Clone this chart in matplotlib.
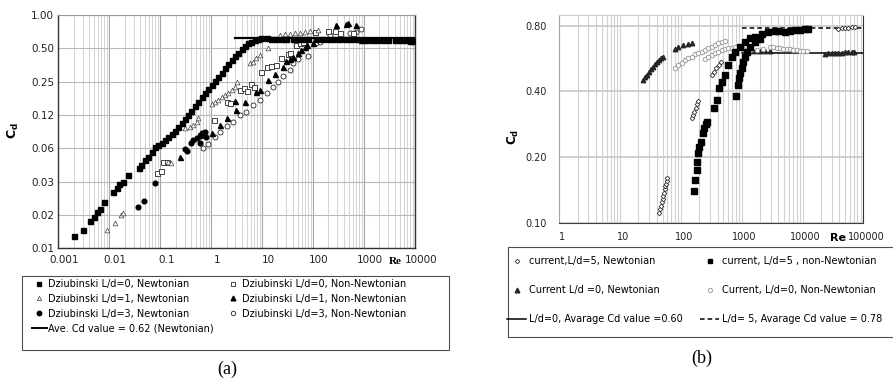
import matplotlib.pyplot as plt
import matplotlib.transforms as mtransforms
import numpy as np
from matplotlib.lines import Line2D
from matplotlib.patches import Rectangle
from matplotlib.ticker import LogLocator, NullLocator, NullFormatter

# ---------------- (a) Dziubinski data ----------------
re_a = [0.0020, 0.0030, 0.0042, 0.0050, 0.0058, 0.0066, 0.0079, 0.012, 0.0139, 0.0157, 0.0182, 0.0236,
        0.0387, 0.0411, 0.050, 0.058, 0.068, 0.079, 0.091, 0.106, 0.124, 0.144, 0.167, 0.194, 0.225,
        0.262, 0.305, 0.354, 0.411, 0.479, 0.556, 0.646, 0.752, 0.873, 1.02, 1.18, 1.37, 1.60, 1.85,
        2.15, 2.51, 2.91, 3.38, 3.94, 4.57, 5.31, 6.18, 7.18, 8.36, 9.71, 12.2, 19.1, 40.5, 116, 247,
        524, 1110, 2360, 5000, 9140, 15, 25, 30, 50, 62, 80, 150, 200, 320, 420, 700, 880, 1450, 1800,
        3000, 4000, 6500, 7800]
cd_a = [0.0100, 0.0114, 0.0139, 0.0151, 0.0166, 0.0178, 0.0203, 0.0254, 0.0276, 0.0298, 0.0313, 0.0359,
        0.0412, 0.0442, 0.0490, 0.0526, 0.0583, 0.0638, 0.0670, 0.0703, 0.0743, 0.0786, 0.0842, 0.0903,
        0.0981, 0.105, 0.114, 0.125, 0.137, 0.151, 0.165, 0.181, 0.196, 0.213, 0.232, 0.253, 0.274,
        0.297, 0.330, 0.361, 0.392, 0.426, 0.457, 0.493, 0.525, 0.555, 0.574, 0.595, 0.607, 0.620,
        0.614, 0.603, 0.603, 0.607, 0.607, 0.603, 0.599, 0.595, 0.591, 0.587, 0.610, 0.605, 0.606,
        0.604, 0.606, 0.605, 0.606, 0.604, 0.605, 0.603, 0.601, 0.600, 0.598, 0.597, 0.594, 0.593,
        0.589, 0.588]

re_c = [0.0089, 0.0129, 0.0167, 0.0188, 0.144, 0.162, 0.305, 0.382, 0.444, 0.531, 0.556, 1.02, 1.18,
        1.37, 1.60, 1.85, 2.15, 2.51, 2.91, 3.24, 5.73, 6.66, 7.74, 9.0, 13.1, 22.2, 27.8, 34.8, 43.7,
        54.8, 68.7, 86.1, 125]
cd_c = [0.0114, 0.0133, 0.0156, 0.0164, 0.0474, 0.0464, 0.0947, 0.0981, 0.102, 0.109, 0.117, 0.157,
        0.165, 0.171, 0.181, 0.190, 0.199, 0.210, 0.222, 0.250, 0.366, 0.379, 0.406, 0.435, 0.500,
        0.660, 0.674, 0.670, 0.683, 0.692, 0.707, 0.722, 0.732]

re_d = [0.036, 0.0485, 0.0786, 0.305, 0.328, 0.411, 0.444, 0.516, 0.600, 0.646, 0.752, 0.809, 0.600]
cd_d = [0.0186, 0.0209, 0.0302, 0.0612, 0.0595, 0.0694, 0.0743, 0.0770, 0.0808, 0.0854, 0.0884, 0.0788, 0.0703]

re_e = [0.0847, 0.103, 0.114, 0.133, 0.600, 1.13, 2.0, 2.32, 3.65, 4.37, 5.08, 6.18, 6.87, 9.71, 12.2,
        15.2, 19.1, 23.9, 32.4, 36.0, 47.1, 54.8, 63.7, 108, 197, 266, 333, 608]
cd_e = [0.0372, 0.0390, 0.0467, 0.0474, 0.0825, 0.113, 0.165, 0.159, 0.210, 0.218, 0.206, 0.238, 0.225,
        0.308, 0.342, 0.349, 0.354, 0.406, 0.441, 0.457, 0.536, 0.563, 0.574, 0.698, 0.712, 0.712,
        0.683, 0.683]

re_f = [0.243, 1.02, 1.48, 2.06, 2.91, 3.14, 4.57, 7.74, 9.0, 13.1, 17.7, 25.8, 30.0, 34.8, 40.5, 50.8,
        59.0, 68.7, 76.2, 100, 287, 451, 486, 708]
cd_f = [0.0519, 0.0866, 0.101, 0.117, 0.168, 0.139, 0.165, 0.203, 0.210, 0.259, 0.293, 0.342, 0.387,
        0.398, 0.420, 0.457, 0.483, 0.510, 0.532, 0.555, 0.812, 0.830, 0.852, 0.812]

re_g = [0.697, 0.873, 1.18, 1.48, 2.0, 2.70, 3.65, 4.93, 6.66, 9.0, 12.2, 16.4, 20.6, 25.8, 34.8, 40.5,
        50.8, 79.8, 116, 135, 212, 524, 708, 887]
cd_g = [0.0625, 0.0684, 0.0788, 0.0884, 0.0994, 0.109, 0.125, 0.134, 0.154, 0.171, 0.196, 0.222, 0.250,
        0.281, 0.318, 0.366, 0.398, 0.426, 0.555, 0.574, 0.660, 0.683, 0.707, 0.742]

ave_a_re = [2.9, 10000]
ave_a_cd = 0.62

yt_a = [2.0**k for k in range(-7, 1)]
yl_a = ['0.01', '0.02', '0.03', '0.06', '0.12', '0.25', '0.50', '1.00']
xt_a = [0.001, 0.01, 0.1, 1, 10, 100, 1000, 10000]
xl_a = ['0.001', '0.01', '0.1', '1', '10', '100', '1000', '10000']

# ---------------- (b) current data ----------------
re_d5n = [44.2, 45.8, 47.6, 48.8, 50.1, 51.4, 52.6, 54.0, 55.4, 56.8, 58.2, 59.7,
          150, 158, 166, 175, 184, 193,
          320, 350, 382, 418, 456,
          38800, 44000, 49900, 56700, 64300, 72900]
cd_d5n = [0.111, 0.115, 0.119, 0.124, 0.128, 0.133, 0.137, 0.142, 0.147, 0.151, 0.156, 0.160,
          0.301, 0.312, 0.323, 0.334, 0.350, 0.363,
          0.475, 0.492, 0.510, 0.528, 0.543,
          0.775, 0.778, 0.780, 0.783, 0.786, 0.789]

re_d0n = [23.5, 25.3, 27.3, 29.5, 31.8, 34.3, 37.0, 39.9, 43.0, 46.4, 50.1,
          79.9, 90.6, 109, 132, 150,
          1368, 1652, 1997, 2414, 2917,
          23400, 26600, 30100, 34200, 38800, 44000, 49900, 56700, 64300, 70200]
cd_d0n = [0.451, 0.464, 0.475, 0.492, 0.506, 0.519, 0.532, 0.543, 0.557, 0.567, 0.577,
          0.623, 0.641, 0.652, 0.659, 0.664,
          0.612, 0.615, 0.615, 0.612, 0.612,
          0.595, 0.598, 0.598, 0.600, 0.602, 0.602, 0.604, 0.606, 0.608, 0.608]

re_d0nn = [79.9, 90.6, 103, 117, 132, 150, 170, 193, 219, 249, 283, 320, 365, 412, 468, 531,
           249, 283, 320, 365, 412, 468, 531, 602, 683, 775,
           1062, 1368, 1761, 2265, 2917, 3311, 3757, 4256, 4831, 5483, 6223, 7063, 8017, 9085, 10300, 11700]
cd_d0nn = [0.510, 0.528, 0.539, 0.557, 0.567, 0.577, 0.593, 0.598, 0.608, 0.619, 0.630, 0.641, 0.652,
           0.664, 0.671, 0.683,
           0.561, 0.573, 0.585, 0.597, 0.608, 0.619, 0.625, 0.630, 0.634, 0.637,
           0.623, 0.619, 0.617, 0.625, 0.637, 0.641, 0.634, 0.630, 0.627, 0.625, 0.623, 0.619, 0.617,
           0.614, 0.612, 0.610]

re_d5nn = [164, 170, 181, 186, 193, 201, 211, 228, 240, 258, 272, 350, 387, 428, 468, 531, 602, 683,
           775, 936, 1132, 1368, 1652, 2128, 2740, 3524, 4000, 5150, 6223, 7516, 9085, 10990, 12450,
           805, 880, 914, 936, 998, 1062, 1132, 1205, 1368, 1652, 1997]
cd_d5nn = [0.139, 0.157, 0.174, 0.190, 0.208, 0.223, 0.235, 0.257, 0.271, 0.283, 0.290, 0.334, 0.365,
           0.413, 0.443, 0.475, 0.528, 0.577, 0.608, 0.641, 0.676, 0.700, 0.712, 0.733, 0.746, 0.756,
           0.756, 0.751, 0.756, 0.762, 0.764, 0.770, 0.772,
           0.381, 0.428, 0.459, 0.484, 0.510, 0.547, 0.577, 0.608, 0.641, 0.671, 0.695]

ave_b_re = [1000, 100000]
ave_b0 = 0.60
ave_b5 = 0.78

yt_b = [0.1, 0.2, 0.4, 0.8]
yl_b = ['0.10', '0.20', '0.40', '0.80']
xt_b = [1, 10, 100, 1000, 10000, 100000]
xl_b = ['1', '10', '100', '1000', '10000', '100000']

W, H = 893, 378
fig = plt.figure(figsize=(W / 100, H / 100), dpi=100)


def fx(px):
    return px / W


def fy(py):
    return 1 - py / H


def shift_labels(ax, dx_px):
    off = mtransforms.ScaledTranslation(dx_px / 100, 0, fig.dpi_scale_trans)
    for lab in ax.get_xticklabels():
        lab.set_transform(lab.get_transform() + off)


# ================= panel (a) =================
ax1 = fig.add_axes([fx(58.3), fy(248.3), (415 - 58.3) / W, (248.3 - 15) / H])
ax1.set_xscale('log')
ax1.set_yscale('log', base=2)
ax1.set_xlim(0.001, 10000)
ax1.set_ylim(2.0**-7, 1.0)
ax1.set_yticks(yt_a)
ax1.set_yticklabels(yl_a)
ax1.yaxis.set_minor_locator(NullLocator())
ax1.set_xticks(xt_a)
ax1.set_xticklabels(xl_a)
ax1.xaxis.set_minor_locator(LogLocator(base=10, subs=np.arange(2, 10)))
ax1.xaxis.set_minor_formatter(NullFormatter())
ax1.tick_params(axis='both', which='both', length=0, labelsize=7.5, colors='#222222')
ax1.tick_params(axis='x', pad=4.5)
ax1.tick_params(axis='y', pad=3)
ax1.grid(True, which='major', axis='y', color='0.72', lw=0.8)
ax1.grid(True, which='major', axis='x', color='0.65', lw=0.8)
ax1.grid(True, which='minor', axis='x', color='0.8', lw=0.6)
ax1.set_axisbelow(True)
for s in ['left', 'bottom', 'right']:
    ax1.spines[s].set_color('0.2')
    ax1.spines[s].set_linewidth(1.0)
ax1.spines['top'].set_color('0.6')
shift_labels(ax1, 6)

ax1.plot(ave_a_re, [ave_a_cd, ave_a_cd], color='black', lw=1.6, zorder=2)
ax1.plot(re_g, cd_g, 'o', ms=3.6, mfc='white', mec='0.15', mew=0.6, zorder=3)
ax1.plot(re_e, cd_e, 's', ms=3.6, mfc='white', mec='0.15', mew=0.6, zorder=3)
ax1.plot(re_c, cd_c, '^', ms=3.4, mfc='white', mec='0.25', mew=0.5, zorder=3)
ax1.plot(re_f, cd_f, '^', ms=3.6, color='black', zorder=4)
ax1.plot(re_d, cd_d, 'o', ms=3.4, color='black', zorder=4)
ax1.plot(re_a, cd_a, 's', ms=3.6, color='black', zorder=5)

fig.text(fx(13), fy(131), 'C$_\\mathregular{d}$', rotation=90, fontsize=9, fontweight='bold',
         ha='center', va='center')
fig.text(fx(395), fy(262), 'Re', fontsize=8, fontweight='bold', family='Liberation Serif',
         ha='center', va='center')

# legend (a)
fig.add_artist(Rectangle((fx(22), fy(350)), (449 - 22) / W, (350 - 276) / H, transform=fig.transFigure,
                         fill=False, edgecolor='0.3', lw=0.8))
h_a1 = [Line2D([], [], ls='none', marker='s', ms=3.2, color='black'),
        Line2D([], [], ls='none', marker='^', ms=3.2, mfc='white', mec='0.25', mew=0.5),
        Line2D([], [], ls='none', marker='o', ms=3.2, color='black'),
        Line2D([], [], color='black', lw=1.4)]
l_a1 = ['Dziubinski L/d=0, Newtonian', 'Dziubinski L/d=1, Newtonian',
        'Dziubinski L/d=3, Newtonian', 'Ave. Cd value = 0.62 (Newtonian)']
h_a2 = [Line2D([], [], ls='none', marker='s', ms=3.2, mfc='white', mec='0.15', mew=0.6),
        Line2D([], [], ls='none', marker='^', ms=3.4, color='black'),
        Line2D([], [], ls='none', marker='o', ms=3.2, mfc='white', mec='0.15', mew=0.6)]
l_a2 = ['Dziubinski L/d=0, Non-Newtonian', 'Dziubinski L/d=1, Non-Newtonian',
        'Dziubinski L/d=3, Non-Newtonian']
leg_kw = dict(frameon=False, fontsize=7, loc='upper left', borderaxespad=0, borderpad=0,
              handletextpad=0.15, handlelength=1.5, labelspacing=0.5)
fig.legend(h_a1, l_a1, bbox_to_anchor=(fx(32), fy(279)), **leg_kw)
fig.legend(h_a2, l_a2, bbox_to_anchor=(fx(226), fy(279)), **leg_kw)

fig.text(fx(227), fy(369), '(a)', fontsize=13, family='Liberation Serif', ha='center', va='center')

# ================= panel (b) =================
ax2 = fig.add_axes([fx(559.3), fy(222.7), (863.3 - 559.3) / W, (222.7 - 15) / H])
ax2.set_xscale('log')
ax2.set_yscale('log', base=2)
ax2.set_xlim(1, 100000)
ax2.set_ylim(0.1, 0.895)
ax2.set_yticks(yt_b)
ax2.set_yticklabels(yl_b)
ax2.yaxis.set_minor_locator(NullLocator())
ax2.set_xticks(xt_b)
ax2.set_xticklabels(xl_b)
ax2.xaxis.set_minor_locator(LogLocator(base=10, subs=np.arange(2, 10)))
ax2.xaxis.set_minor_formatter(NullFormatter())
ax2.tick_params(axis='both', which='both', length=0, labelsize=7, colors='#222222')
ax2.tick_params(axis='x', pad=6.5)
ax2.tick_params(axis='y', pad=9)
ax2.grid(True, which='major', axis='y', color='0.8', lw=1.3)
ax2.grid(True, which='both', axis='x', color='0.82', lw=0.8)
ax2.set_axisbelow(True)
ax2.spines['left'].set_color('0.65')
ax2.spines['top'].set_color('0.8')
ax2.spines['bottom'].set_color('0.25')
ax2.spines['right'].set_color('0.2')
shift_labels(ax2, 3)

ax2.plot(ave_b_re, [ave_b0, ave_b0], color='black', lw=1.1, zorder=2)
ax2.plot(ave_b_re, [ave_b5, ave_b5], color='black', lw=1.1, ls=(0, (3, 2)), zorder=2)
ax2.plot(re_d0n, cd_d0n, '^', ms=3.2, color='0.15', zorder=3)
ax2.plot(re_d5n, cd_d5n, 'D', ms=2.4, mfc='white', mec='0.2', mew=0.6, zorder=3)
ax2.plot(re_d0nn, cd_d0nn, 'o', ms=3.2, mfc='white', mec='0.62', mew=0.7, zorder=4)
ax2.plot(re_d5nn, cd_d5nn, 's', ms=3.8, color='black', zorder=5)

fig.text(fx(513), fy(137), 'C$_\\mathregular{d}$', rotation=90, fontsize=8.5, fontweight='bold',
         ha='center', va='center')
fig.text(fx(838), fy(238), 'Re', fontsize=8, fontweight='bold', ha='center', va='center')

# legend (b)
fig.add_artist(Rectangle((fx(508), fy(337)), (900 - 508) / W, (337 - 247) / H, transform=fig.transFigure,
                         fill=False, edgecolor='0.3', lw=0.8))
h_b1 = [Line2D([], [], ls='none', marker='D', ms=2.4, mfc='white', mec='0.2', mew=0.6),
        Line2D([], [], ls='none', marker='^', ms=3.4, color='0.15'),
        Line2D([], [], color='black', lw=1.1)]
l_b1 = ['current,L/d=5, Newtonian', 'Current L/d =0, Newtonian', 'L/d=0, Avarage Cd value =0.60']
h_b2 = [Line2D([], [], ls='none', marker='s', ms=3.2, color='black'),
        Line2D([], [], ls='none', marker='o', ms=3.0, mfc='white', mec='0.62', mew=0.7),
        Line2D([], [], color='black', lw=1.1, ls=(0, (3, 2)))]
l_b2 = ['current, L/d=5 , non-Newtonian', 'Current, L/d=0, Non-Newtonian',
        'L/d= 5, Avarage Cd value = 0.78']
leg_kw_b = dict(frameon=False, fontsize=7, loc='upper left', borderaxespad=0, borderpad=0,
                handletextpad=0.25, handlelength=2.0, labelspacing=1.95)
fig.legend(h_b1, l_b1, bbox_to_anchor=(fx(507), fy(256)), **leg_kw_b)
fig.legend(h_b2, l_b2, bbox_to_anchor=(fx(700), fy(256)), **leg_kw_b)

fig.text(fx(702), fy(358), '(b)', fontsize=13, family='Liberation Serif', ha='center', va='center')

fig.savefig('out.png', dpi=100)
